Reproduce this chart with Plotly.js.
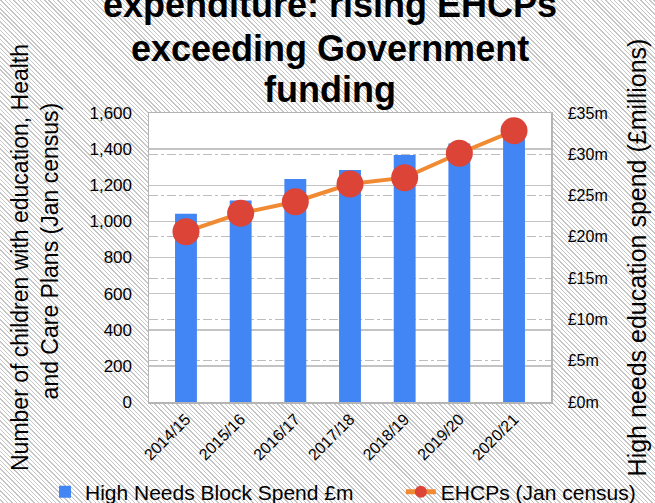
<!DOCTYPE html>
<html>
<head>
<meta charset="utf-8">
<script src="https://cdn.plot.ly/plotly-3.0.1.min.js"></script>
<style>
  html, body { margin: 0; padding: 0; }
  #chart {
    width: 655px; height: 503px;
    background: repeating-linear-gradient(45deg, #ffffff 0px, #ffffff 2.1px, #c6c6c6 2.1px, #c6c6c6 3.1px);
  }
</style>
</head>
<body>
<div id="chart"></div>
<script>
// ---- data ----
var years = ['2014/15', '2015/16', '2016/17', '2017/18', '2018/19', '2019/20', '2020/21'];
var spendMillions = [22.8, 24.4, 27.0, 28.1, 29.9, 31.3, 33.0];
var ehcps = [943, 1045, 1109, 1207, 1242, 1377, 1502];
var titleLines = ['expenditure: rising EHCPs', 'exceeding Government', 'funding'];
var seriesNames = ['High Needs Block Spend £m', 'EHCPs (Jan census)'];
var leftTitleLines = ['Number of children with education, Health', 'and Care Plans (Jan census)'];
var rightTitle = 'High needs education spend (£millions)';

var FONT = 'Liberation Sans, Arial, sans-serif';
function nb(n) { return new Array(n + 1).join('\u00a0'); }

var traces = [
  {
    type: 'bar', x: years, y: spendMillions, name: seriesNames[0],
    yaxis: 'y', width: 0.4, legend: 'legend',
    marker: { color: '#4285f4' }
  },
  {
    type: 'scatter', mode: 'lines+markers', x: years, y: ehcps, name: seriesNames[1],
    yaxis: 'y2', legend: 'legend2',
    line: { color: '#f08a33', width: 4 },
    marker: { color: '#db4437', size: 27 }
  }
];

var titleY = [1.374, 1.222, 1.080];
var annotations = titleLines.map(function (t, i) {
  return {
    text: '<b>' + t + '</b>', xref: 'paper', yref: 'paper',
    x: 0.4503, y: titleY[i], xanchor: 'center', yanchor: 'middle',
    showarrow: false, font: { family: FONT, size: 36, color: '#000' }
  };
});

var legendCommon = {
  orientation: 'h', xref: 'container', yref: 'container',
  xanchor: 'left', y: 0.0219, yanchor: 'middle',
  font: { family: FONT, size: 21, color: '#000' },
  itemsizing: 'constant', bgcolor: 'rgba(0,0,0,0)'
};

var layout = {
  width: 655, height: 503,
  margin: { l: 149, r: 104, t: 113, b: 101 },
  paper_bgcolor: 'rgba(0,0,0,0)',
  plot_bgcolor: '#ffffff',
  font: { family: FONT, color: '#000' },
  showlegend: true,
  legend: Object.assign({}, legendCommon, { x: 0.0687 }),
  legend2: Object.assign({}, legendCommon, { x: 0.612 }),
  xaxis: {
    type: 'category', tickangle: -45, tickfont: { size: 16 },
    showline: true, mirror: true, linecolor: '#b4b4b4', linewidth: 1.5,
    showgrid: false, ticks: ''
  },
  yaxis: {
    side: 'right', range: [0, 35], dtick: 5, tick0: 0,
    tickprefix: '£', ticksuffix: 'm', tickfont: { size: 16 },
    showgrid: true, griddash: 'dashdot', gridcolor: '#bdbdbd', gridwidth: 1,
    showline: true, mirror: true, linecolor: '#b4b4b4', linewidth: 1.5,
    zeroline: false, ticks: '', ticklabelstandoff: 12,
    title: { text: nb(5) + rightTitle, font: { size: 25 }, standoff: 22 }
  },
  yaxis2: {
    overlaying: 'y', side: 'left', range: [0, 1600], dtick: 200, tick0: 0,
    tickformat: ',d', tickfont: { size: 17 },
    showgrid: true, gridcolor: '#c4c4c4', gridwidth: 1.5,
    zeroline: false, ticks: '', ticklabelstandoff: 16,
    title: { text: nb(7) + leftTitleLines[0] + '<br>' + nb(2) + leftTitleLines[1], font: { size: 23 }, standoff: 24 }
  },
  annotations: annotations
};

Plotly.newPlot('chart', traces, layout, { displayModeBar: false, staticPlot: true });
</script>
</body>
</html>
